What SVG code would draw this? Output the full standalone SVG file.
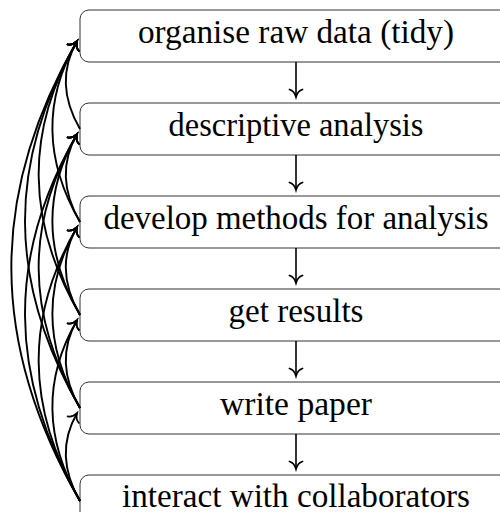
<svg xmlns="http://www.w3.org/2000/svg" width="500" height="512" viewBox="0 0 500 512">
<style>
.box{fill:#fff;stroke:#333;stroke-width:1}
.lbl{font-family:"Liberation Serif","Times New Roman",serif;font-size:33px;fill:#000;text-anchor:middle}
.edge{fill:none;stroke:#000;stroke-width:1.9;marker-end:url(#to)}
.down{fill:none;stroke:#000;stroke-width:1.6;marker-end:url(#to)}
</style>
<defs>
<marker id="to" viewBox="-10 -8 12 16" refX="0" refY="0" markerWidth="12" markerHeight="16" markerUnits="userSpaceOnUse" orient="auto" overflow="visible">
<path d="M-7.5,-6.5 C-6.5,-3.2 -2.7,-0.8 0,0 C-2.7,0.8 -6.5,3.2 -7.5,6.5" fill="none" stroke="#000" stroke-width="1.8" stroke-linecap="round"/>
</marker>
</defs>
<g id="n1"><rect class="box" x="80" y="10" width="440" height="52" rx="9"/><text class="lbl" x="296" y="43" textLength="316" lengthAdjust="spacingAndGlyphs">organise raw data (tidy)</text></g>
<g id="n2"><rect class="box" x="80" y="103" width="440" height="52" rx="9"/><text class="lbl" x="296" y="136" textLength="255" lengthAdjust="spacingAndGlyphs">descriptive analysis</text></g>
<g id="n3"><rect class="box" x="80" y="196" width="440" height="52" rx="9"/><text class="lbl" x="296" y="229" textLength="385" lengthAdjust="spacingAndGlyphs">develop methods for analysis</text></g>
<g id="n4"><rect class="box" x="80" y="289" width="440" height="52" rx="9"/><text class="lbl" x="296" y="322" textLength="135" lengthAdjust="spacingAndGlyphs">get results</text></g>
<g id="n5"><rect class="box" x="80" y="382" width="440" height="52" rx="9"/><text class="lbl" x="296" y="415" textLength="152" lengthAdjust="spacingAndGlyphs">write paper</text></g>
<g id="n6"><rect class="box" x="80" y="475" width="440" height="52" rx="9"/><text class="lbl" x="296" y="507" textLength="348" lengthAdjust="spacingAndGlyphs">interact with collaborators</text></g>
<g id="connectors">
<path class="down" d="M296,62 L296,97"/>
<path class="down" d="M296,155 L296,190"/>
<path class="down" d="M296,248 L296,283"/>
<path class="down" d="M296,341 L296,376"/>
<path class="down" d="M296,434 L296,469"/>
<path class="edge" d="M80,129 C61.8,97.47 61.8,67.53 77,41.2"/>
<path class="edge" d="M80,222 C61.8,190.47 61.8,160.53 77,134.2"/>
<path class="edge" d="M80,315 C61.8,283.47 61.8,253.53 77,227.2"/>
<path class="edge" d="M80,408 C61.8,376.47 61.8,346.53 77,320.2"/>
<path class="edge" d="M80,501 C61.8,469.47 61.8,439.53 77,413.2"/>
<path class="edge" d="M80,222 C43.59,158.94 43.59,99.06 77,41.2"/>
<path class="edge" d="M80,315 C43.59,251.94 43.59,192.06 77,134.2"/>
<path class="edge" d="M80,408 C43.59,344.94 43.59,285.06 77,227.2"/>
<path class="edge" d="M80,501 C43.59,437.94 43.59,378.06 77,320.2"/>
<path class="edge" d="M80,315 C25.39,220.41 25.39,130.59 77,41.2"/>
<path class="edge" d="M80,408 C25.39,313.41 25.39,223.59 77,134.2"/>
<path class="edge" d="M80,501 C25.39,406.41 25.39,316.59 77,227.2"/>
<path class="edge" d="M80,408 C7.18,281.88 7.18,162.12 77,41.2"/>
<path class="edge" d="M80,501 C7.18,374.88 7.18,255.12 77,134.2"/>
<path class="edge" d="M80,501 C-11.02,343.35 -11.02,193.65 77,41.2"/>
</g>
</svg>
